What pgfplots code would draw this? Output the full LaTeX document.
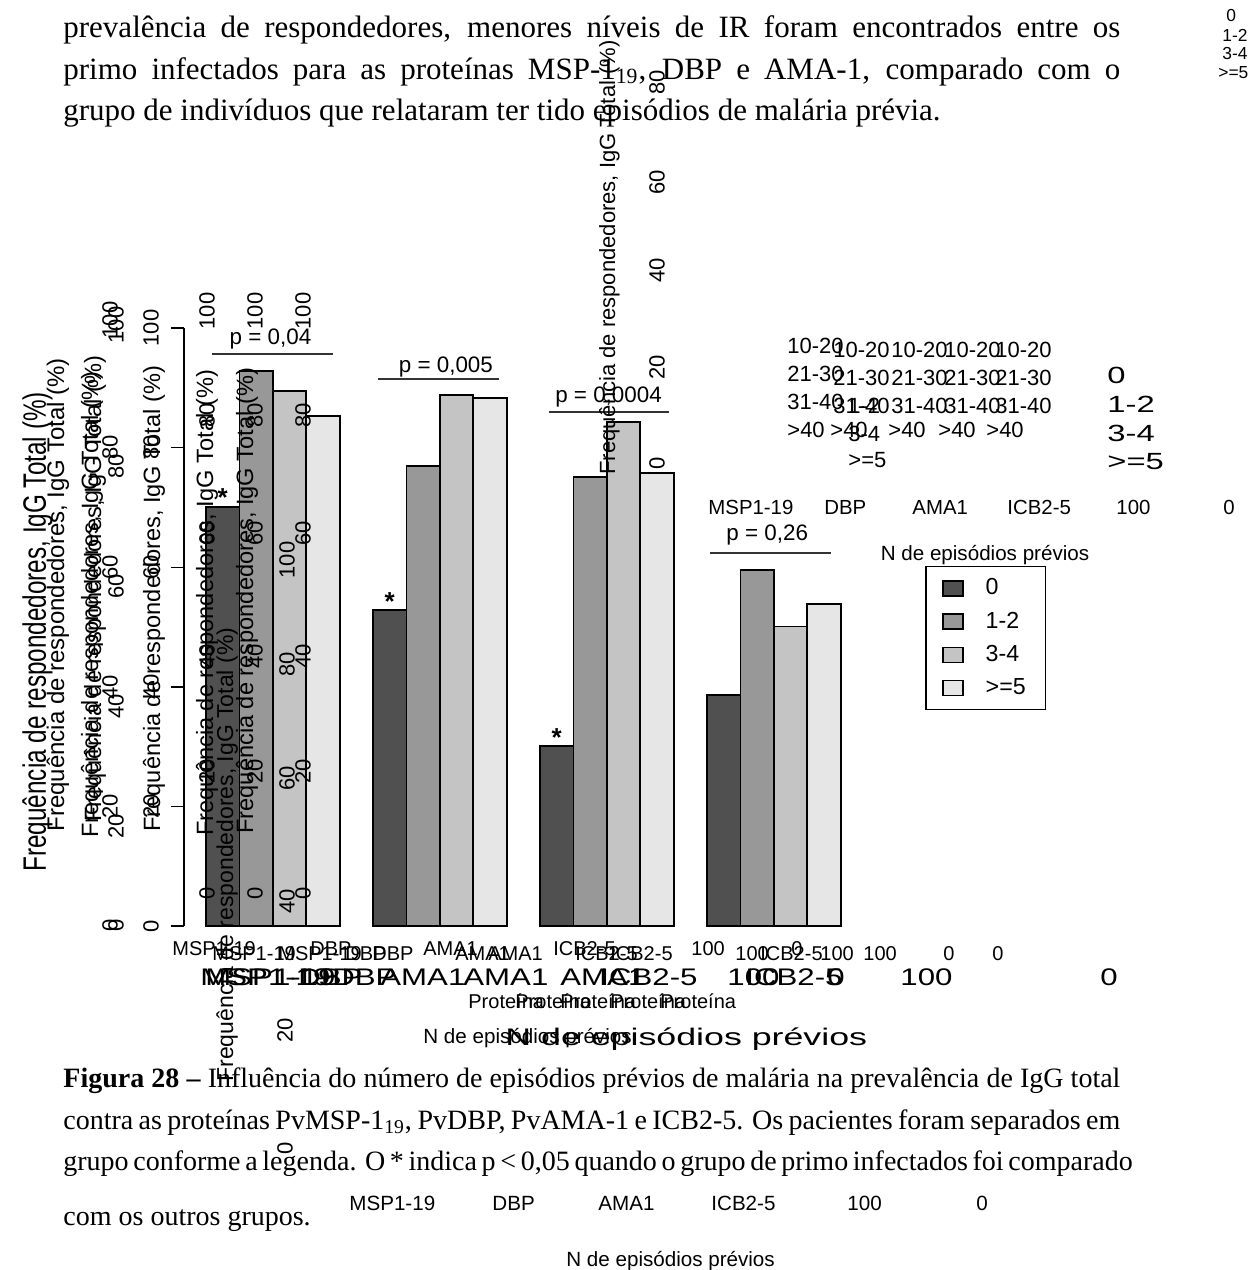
\documentclass[border=0pt]{standalone}
\usepackage{fontspec}
\setmainfont{Liberation Serif}
\newfontfamily\arial{Liberation Sans}
\usepackage{pgfplots}
\pgfplotsset{compat=1.18}
\definecolor{cA}{HTML}{505050}
\definecolor{cB}{HTML}{989898}
\definecolor{cC}{HTML}{C4C4C4}
\definecolor{cD}{HTML}{E6E6E6}
\newcommand{\fs}[1]{\fontsize{#1}{#1}\selectfont}
\newcommand{\freq}{Frequência de respondedores, IgG Total (\%)}
\begin{document}
\begin{tikzpicture}[x=0.5pt,y=-0.5pt]
\path[use as bounding box] (0,0) rectangle (1259,1270);
\coordinate (O) at (184,926);
% ---------- page text above ----------
\begin{scope}[every node/.style={inner sep=0pt, anchor=base west, font=\fs{15.5}}]
\node at (63,37) {\makebox[528.5pt][s]{prevalência de respondedores, menores níveis de IR foram encontrados entre os}};
\node at (63,79) {\makebox[528.5pt][s]{primo infectados para as proteínas MSP-1\textsubscript{19}, DBP e AMA-1, comparado com o}};
\node at (63,120) {grupo de indivíduos que relataram ter tido episódios de malária prévia.};
\end{scope}
% ---------- caption below ----------
\begin{scope}[every node/.style={inner sep=0pt, anchor=base west, font=\fs{14}}]
\node at (63,1087) {\makebox[528.5pt][s]{\textbf{Figura 28 –} Influência do número de episódios prévios de malária na prevalência de IgG total}};
\node at (63,1129) {\makebox[528.5pt][s]{contra as proteínas PvMSP-1\textsubscript{19}, PvDBP, PvAMA-1 e ICB2-5. Os pacientes foram separados em}};
\node at (63,1170) {\makebox[528.5pt][s]{grupo conforme a legenda. O * indica p < 0,05 quando o grupo de primo infectados foi comparado}};
\node at (63,1225) {com os outros grupos.};
\end{scope}
% ---------- chart ----------
\begin{axis}[
  at={(O)}, anchor=south west, scale only axis,
  width=336.7pt, height=299pt,
  xmin=0.34, xmax=20.5, ymin=0, ymax=100,
  clip=false,
  axis x line=none, axis y line*=left,
  xtick=\empty,
  ytick={0,20,40,60,80,100},
  tick align=outside, major tick length=6.5pt,
  y axis line style={line width=0.7pt},
  ytick style={line width=0.7pt, black},
  yticklabel style={rotate=90, anchor=center, inner sep=0pt, yshift=10pt, font=\arial\fs{11}},
  /pgf/number format/assume math mode=true,
  legend style={at={(1.101,0.602)}, anchor=north west, draw=black, line width=0.7pt,
    font=\arial\fs{11.6}, inner xsep=8pt, inner ysep=4pt, row sep=3pt,
    /tikz/every odd column/.append style={column sep=9pt}},
  legend cell align=left,
  sq/.style={legend image code/.code={\path (0pt,0pt); \draw[##1, draw=black, line width=0.7pt] (0pt,-3.75pt) rectangle (10pt,3.75pt);}},
  every axis plot/.append style={ybar, bar width=1, bar shift=0pt, draw=black, line width=0.9pt},
]
\addplot[fill=cA, sq] coordinates {(1.5,70.1) (6.5,52.8) (11.5,30.1) (16.5,38.6)};
\addplot[fill=cB, sq] coordinates {(2.5,92.8) (7.5,76.9) (12.5,75.1) (17.5,59.6)};
\addplot[fill=cC, sq] coordinates {(3.5,89.5) (8.5,88.8) (13.5,84.3) (18.5,50.1)};
\addplot[fill=cD, sq] coordinates {(4.5,85.3) (9.5,88.3) (14.5,75.8) (19.5,53.8)};
\legend{0,1-2,3-4,>=5}
% p-values
\draw[black!80, line width=1pt] (axis cs:1.18,95.6) -- (axis cs:4.80,95.6);
\draw[black!80, line width=1pt] (axis cs:6.15,91.5) -- (axis cs:9.77,91.5);
\draw[black!80, line width=1pt] (axis cs:11.27,86.0) -- (axis cs:14.86,86.0);
\draw[black!80, line width=1pt] (axis cs:16.09,62.4) -- (axis cs:19.71,62.4);
\node[anchor=base, inner sep=0pt, font=\arial\fs{11.2}] at (axis cs:2.93,97.2) {p = 0,04};
\node[anchor=base, inner sep=0pt, font=\arial\fs{11.2}] at (axis cs:8.18,92.6) {p = 0,005};
\node[anchor=base, inner sep=0pt, font=\arial\fs{11.2}] at (axis cs:13.05,87.6) {p = 0,0004};
\node[anchor=base, inner sep=0pt, font=\arial\fs{11.2}] at (axis cs:17.8,64.5) {p = 0,26};
% asterisks
\node[anchor=base, inner sep=0pt, font=\arial\bfseries\fs{13}] at (axis cs:1.5,70.1) {*};
\node[anchor=base, inner sep=0pt, font=\arial\bfseries\fs{13}] at (axis cs:6.5,52.8) {*};
\node[anchor=base, inner sep=0pt, font=\arial\bfseries\fs{13}] at (axis cs:11.5,30.1) {*};
\end{axis}
% legend title
\node[anchor=base, inner sep=0pt, font=\arial\fs{10.3}] at (985,560) {N de episódios prévios};
% ---------- overlaid remnants (sans) ----------
\begin{scope}[every node/.style={inner sep=0pt, anchor=base west}]
% rotated axis titles
\node[rotate=90, font=\arial\fs{13.5}] at (46,872) {\scalebox{0.9}[1.2]{\freq}};
\node[rotate=90, font=\arial\fs{12}] at (64,832) {\freq};
\node[rotate=90, font=\arial\fs{11.8}] at (98,838) {\freq};
\node[rotate=90, font=\arial\fs{11.8}] at (101,822) {\freq};
\node[rotate=90, font=\arial\fs{11.8}] at (160,832) {\freq};
\node[rotate=90, font=\arial\fs{11.8}] at (213,836) {\freq};
\node[rotate=90, font=\arial\fs{11.5}] at (233,1082) {\freq};
\node[rotate=90, font=\arial\fs{11.8}] at (253,834) {\freq};
\node[rotate=90, font=\arial\fs{11}] at (615,475) {\freq};
% top-right small
\node[font=\arial\fs{8.7}] at (1226,21) {0};
\node[font=\arial\fs{8.7}] at (1222,41) {1-2};
\node[font=\arial\fs{8.7}] at (1222,59) {3-4};
\node[font=\arial\fs{8.7}] at (1218,78) {>=5};
% age blocks
\foreach \xx/\dy in {787/0,833/4,891/4,944/4,995/4}{
  \node[font=\arial\fs{11}] at (\xx,353+\dy) {10-20};
  \node[font=\arial\fs{11}] at (\xx,381+\dy) {21-30};
  \node[font=\arial\fs{11}] at (\xx,409+\dy) {31-40};
}
\foreach \xx in {787,830,888,938,986}{\node[font=\arial\fs{11}] at (\xx,437) {>40};}
\node[font=\arial\fs{11}] at (848,413) {1-2};
\node[font=\arial\fs{11}] at (848,441) {3-4};
\node[font=\arial\fs{11}] at (848,467) {>=5};
\node[font=\arial\fs{11.7}] at (1107,383) {\scalebox{1.4}[1]{0}};
\node[font=\arial\fs{11.7}] at (1107,412) {\scalebox{1.4}[1]{1-2}};
\node[font=\arial\fs{11.7}] at (1107,441) {\scalebox{1.4}[1]{3-4}};
\node[font=\arial\fs{11.7}] at (1107,469) {\scalebox{1.4}[1]{>=5}};
% row of group names right
\foreach \xx/\tt in {708/MSP1-19,824/DBP,912/AMA1,1007/ICB2-5,1116/100,1223/0}{
  \node[font=\arial\fs{10.2}] at (\xx,514) {\tt};
}
% rotated numbers columns
\foreach \yy/\tt in {320/100,447/80,567/60,687/40,806/20,925/0}{
  \node[rotate=90, anchor=center, font=\arial\fs{11}] at (110,\yy) {\tt};
}
\foreach \yy/\tt in {325/100,466/80,586/60,706/40,826/20,925/0}{
  \node[rotate=90, anchor=center, font=\arial\fs{11}] at (116,\yy) {\tt};
}
\foreach \xx in {207,255,303}{
  \foreach \yy/\tt in {311/100,415/80,533/60,656/40,771/20,893/0}{
    \node[rotate=90, anchor=center, font=\arial\fs{11}] at (\xx,\yy) {\tt};
  }
}
\foreach \yy/\tt in {560/100,664/80,778/60,901/40}{
  \node[rotate=90, anchor=center, font=\arial\fs{11}] at (287,\yy) {\tt};
}
\foreach \yy/\tt in {82/80,182/60,270/40,367/20,463/0}{
  \node[rotate=90, anchor=center, font=\arial\fs{11}] at (657,\yy) {\tt};
}
\node[rotate=90, anchor=center, font=\arial\fs{11}] at (285,1030) {20};
\node[rotate=90, anchor=center, font=\arial\fs{11}] at (285,1148) {0};
% bottom label rows
\foreach \xx/\tt in {172/MSP1-19,310/DBP,423/AMA1,553/ICB2-5,691/100,791/0}{
  \node[font=\arial\fs{10}] at (\xx,955) {\tt};
}
\foreach \xx/\tt in {212/MSP1-19,278/MSP1-19,345/DBP,372/DBP,455/AMA1,488/AMA1,575/ICB2-5,610/ICB2-5,735/100,760/ICB2-5,820/100,863/100,943/0,992/0}{
  \node[font=\arial\fs{10}] at (\xx,960) {\tt};
}
\foreach \xx/\tt in {200/MSP1-19,332/DBP,463/AMA1,600/ICB2-5,727/100,827/0,900/100,1100/0}{
  \node[font=\arial\fs{12}] at (\xx,985) {\scalebox{1.3}[1]{\tt}};
}
\foreach \xx/\tt in {205/MSP1-19,298/DBP,380/AMA1,560/AMA1,745/ICB2-5}{
  \node[font=\arial\fs{12}] at (\xx,985) {\scalebox{1.3}[1]{\tt}};
}
\foreach \xx in {468,515,560,610,660}{
  \node[font=\arial\fs{10}] at (\xx,1008) {Proteína};
}
\node[font=\arial\fs{10.3}] at (423,1043) {N de episódios prévios};
\node[font=\arial\fs{12}] at (505,1045) {\scalebox{1.49}[1]{N de episódios prévios}};
\foreach \xx/\tt in {349/MSP1-19,492/DBP,598/AMA1,711/ICB2-5,847/100,976/0}{
  \node[font=\arial\fs{10.3}] at (\xx,1210) {\tt};
}
\node[font=\arial\fs{10.3}] at (566,1266) {N de episódios prévios};
\end{scope}
\end{tikzpicture}
\end{document}
